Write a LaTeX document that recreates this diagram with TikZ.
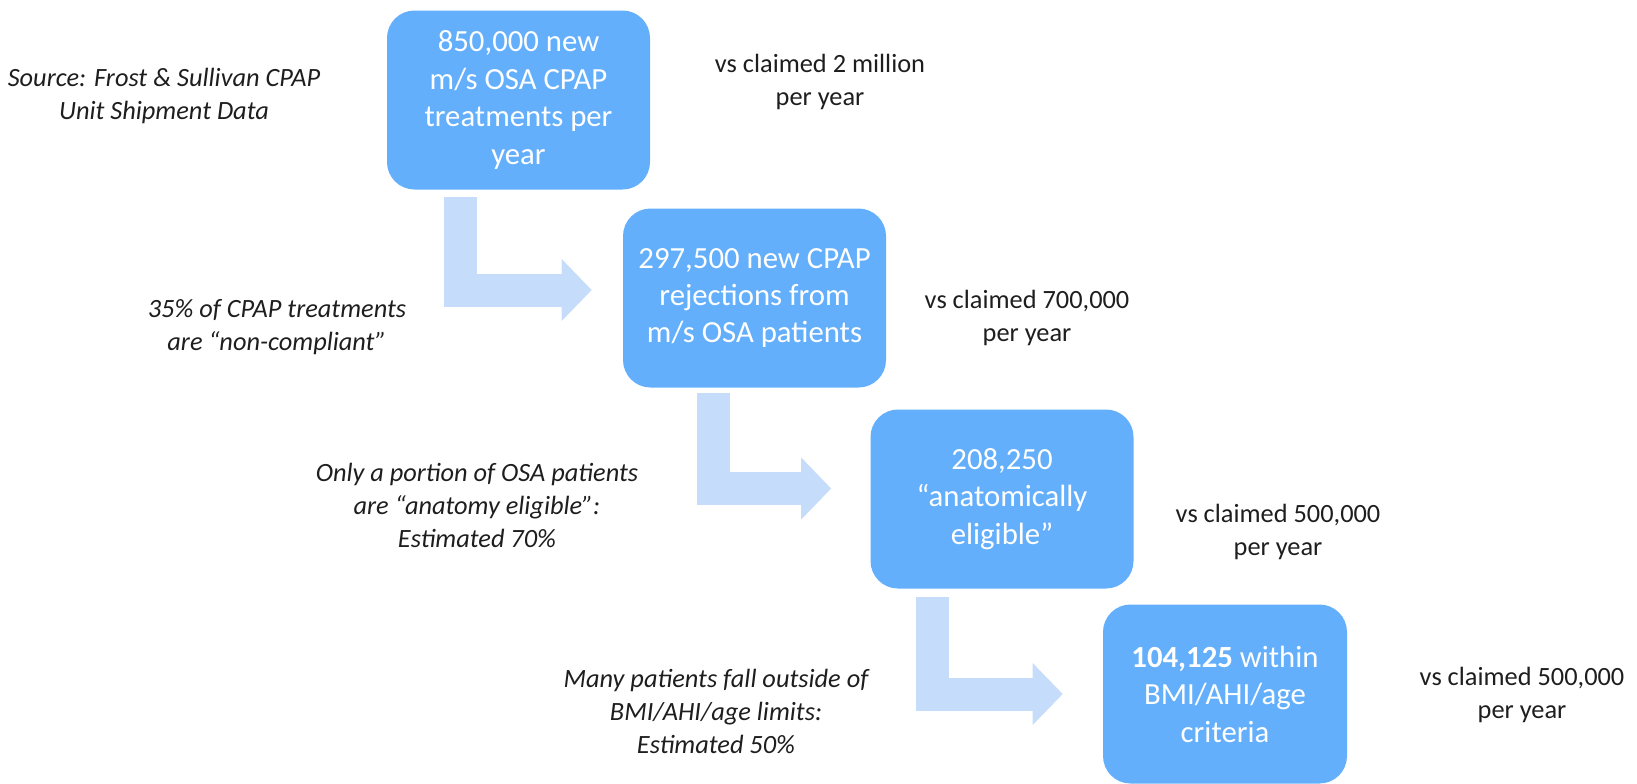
\documentclass[tikz,border=0pt]{standalone}
\usepackage{fontspec}
\setmainfont{Carlito}
\usetikzlibrary{positioning,arrows.meta}
\definecolor{stepcolor}{RGB}{100,175,252}
\definecolor{flowcolor}{RGB}{197,220,250}
\definecolor{notecolor}{RGB}{30,30,30}

\begin{document}
\begin{tikzpicture}[
    stage/.style={rectangle, rounded corners=0.55cm, fill=stepcolor, text=white, minimum width=5.26cm, minimum height=3.58cm, inner sep=0pt, align=center, font=\fontsize{17.5}{21.3}\selectfont},
    note/.style={align=center, text=notecolor, font=\fontsize{15}{18.8}\selectfont\itshape},
    claim/.style={align=center, text=notecolor, font=\fontsize{15}{18.8}\selectfont},
    flow/.style={draw=flowcolor, line width=0.66cm, -{Triangle[length=0.6cm, width=1.24cm, line width=0pt, fill=flowcolor]}}
]
\useasboundingbox (0,0) rectangle (32.74,-15.66);

% ===== FUNNEL STAGES =====
\node[stage] (treat) at (10.37,-2.00) {850,000 new\\m/s OSA CPAP\\treatments per\\year};
\node[stage] (reject) at (15.09,-5.96) {297,500 new CPAP\\rejections from\\m/s OSA patients};
\node[stage] (anat) at (20.04,-9.98) {208,250\\``anatomically\\eligible''};
\node[stage, minimum width=4.88cm] (crit) at (24.50,-13.88) {\textbf{104,125} within\\BMI/AHI/age\\criteria};

% ===== NOTES (LEFT) =====
\node[note] (src) at (3.28,-1.92) {Source: Frost \& Sullivan CPAP\\Unit Shipment Data};
\node[note] (noncomp) at (5.54,-6.54) {35\% of CPAP treatments\\are ``non-compliant''};
\node[note] (anatnote) at (9.54,-10.10) {Only a portion of OSA patients\\are ``anatomy eligible'':\\Estimated 70\%};
\node[note] (critnote) at (14.32,-14.22) {Many patients fall outside of\\BMI/AHI/age limits:\\Estimated 50\%};

% ===== CLAIMS (RIGHT) =====
\node[claim] (vs1) at (16.40,-1.64) {vs claimed 2 million\\per year};
\node[claim] (vs2) at (20.54,-6.36) {vs claimed 700,000\\per year};
\node[claim] (vs3) at (25.56,-10.64) {vs claimed 500,000\\per year};
\node[claim] (vs4) at (30.44,-13.90) {vs claimed 500,000\\per year};

% ===== ARROWS =====
\draw[flow] ([xshift=1.48cm, yshift=-0.14cm]treat.south west) |- ([xshift=-0.62cm, yshift=0.16cm]reject.west);
\draw[flow] ([xshift=1.82cm, yshift=-0.10cm]reject.south west) |- ([xshift=-0.78cm, yshift=0.21cm]anat.west);
\draw[flow] ([xshift=1.25cm, yshift=-0.16cm]anat.south west) |- ([xshift=-0.80cm]crit.west);

\end{tikzpicture}
\end{document}
